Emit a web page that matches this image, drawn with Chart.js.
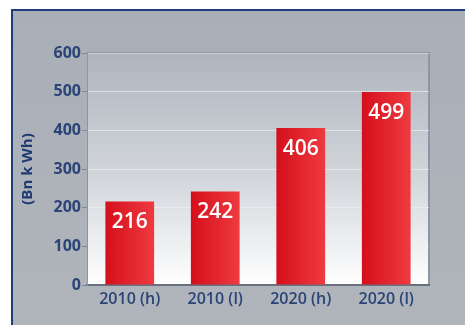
<!DOCTYPE html>
<html>
<head>
<meta charset="utf-8">
<script src="https://cdn.jsdelivr.net/npm/chart.js@4"></script>
<style>
  html, body { margin: 0; padding: 0; background: #fff; overflow: hidden; }
  #frame {
    position: absolute; left: 11px; top: 9px; width: 454px; height: 316px;
    border-top: 2px solid #1f3d7a; border-left: 2px solid #1f3d7a;
    background: linear-gradient(180deg, #a9afb7 0%, #aeb3ba 60%, #b0b5bc 100%);
    box-sizing: border-box;
  }
  #wrap { position: absolute; left: 0; top: 0; width: 465px; height: 325px; }
</style>
</head>
<body>
<div id="frame"></div>
<div id="wrap"><canvas id="chart" width="465" height="325"></canvas></div>
<script>
const categories = ["2010 (h)", "2010 (l)", "2020 (h)", "2020 (l)"];
const values = [216, 242, 406, 499];
const yTicks = [0, 100, 200, 300, 400, 500, 600];
const yTitle = "(Bn k Wh)";

const navy = "#2a4477";
const barPct = 0.57;

function barFill(c) {
  const chart = c.chart;
  const xs = chart.scales.x;
  if (!xs || !chart.chartArea) return "#e31b23";
  const cx = xs.getPixelForValue(c.dataIndex);
  const w = (xs.width / categories.length) * barPct;
  const g = chart.ctx.createLinearGradient(cx - w / 2, 0, cx + w / 2, 0);
  g.addColorStop(0, "#d40f1b");
  g.addColorStop(1, "#ef3a40");
  return g;
}

const plotBg = {
  id: "plotBg",
  beforeDraw(chart) {
    const a = chart.chartArea;
    const ctx = chart.ctx;
    const g = ctx.createLinearGradient(0, a.top, 0, a.bottom);
    g.addColorStop(0, "#aeb5bd");
    g.addColorStop(0.55, "#d3d7dc");
    g.addColorStop(1, "#ffffff");
    ctx.save();
    ctx.fillStyle = g;
    ctx.fillRect(a.left, a.top, a.right - a.left, a.bottom - a.top);
    ctx.strokeStyle = "#8b95a3";
    ctx.lineWidth = 2;
    ctx.beginPath();
    ctx.moveTo(a.left, a.top);
    ctx.lineTo(a.right, a.top);
    ctx.lineTo(a.right, a.bottom);
    ctx.stroke();
    ctx.restore();
  }
};

const barLabels = {
  id: "barLabels",
  afterDatasetsDraw(chart) {
    const ctx = chart.ctx;
    const meta = chart.getDatasetMeta(0);
    ctx.save();
    ctx.fillStyle = "#ffffff";
    ctx.font = "600 21px 'Open Sans'";
    ctx.textAlign = "center";
    ctx.textBaseline = "middle";
    meta.data.forEach((bar, i) => {
      ctx.fillText(String(values[i]), bar.x, bar.y + 21);
    });
    ctx.restore();
  }
};

new Chart(document.getElementById("chart"), {
  type: "bar",
  data: {
    labels: categories,
    datasets: [{
      data: values,
      backgroundColor: barFill,
      borderWidth: 0,
      barPercentage: barPct,
      categoryPercentage: 1
    }]
  },
  options: {
    responsive: false,
    animation: false,
    layout: { padding: { top: 53, right: 36, left: 19, bottom: 0 } },
    plugins: { legend: { display: false }, tooltip: { enabled: false } },
    scales: {
      x: {
        grid: { display: false, drawTicks: false },
        border: { color: "#66707f", width: 2 },
        ticks: { color: navy, font: { family: "'Open Sans'", size: 16, weight: "600" }, padding: 5 },
        afterFit(s) { s.height = 40; }
      },
      y: {
        min: 0,
        max: 600,
        afterBuildTicks(s) { s.ticks = yTicks.map(v => ({ value: v })); },
        grid: { color: "rgba(235,238,242,0.7)", tickColor: "#7f8896", tickLength: 5 },
        border: { color: "#8b95a3", width: 1 },
        ticks: { color: navy, font: { family: "'Open Sans'", size: 16, weight: "700" }, padding: 1 },
        title: {
          display: true,
          text: yTitle,
          color: "#1f3a70",
          font: { family: "'Open Sans'", size: 15, weight: "700" },
          padding: { top: 0, bottom: 0 }
        },
        afterFit(s) { s.width = 68; }
      }
    }
  },
  plugins: [plotBg, barLabels]
});
</script>
</body>
</html>
